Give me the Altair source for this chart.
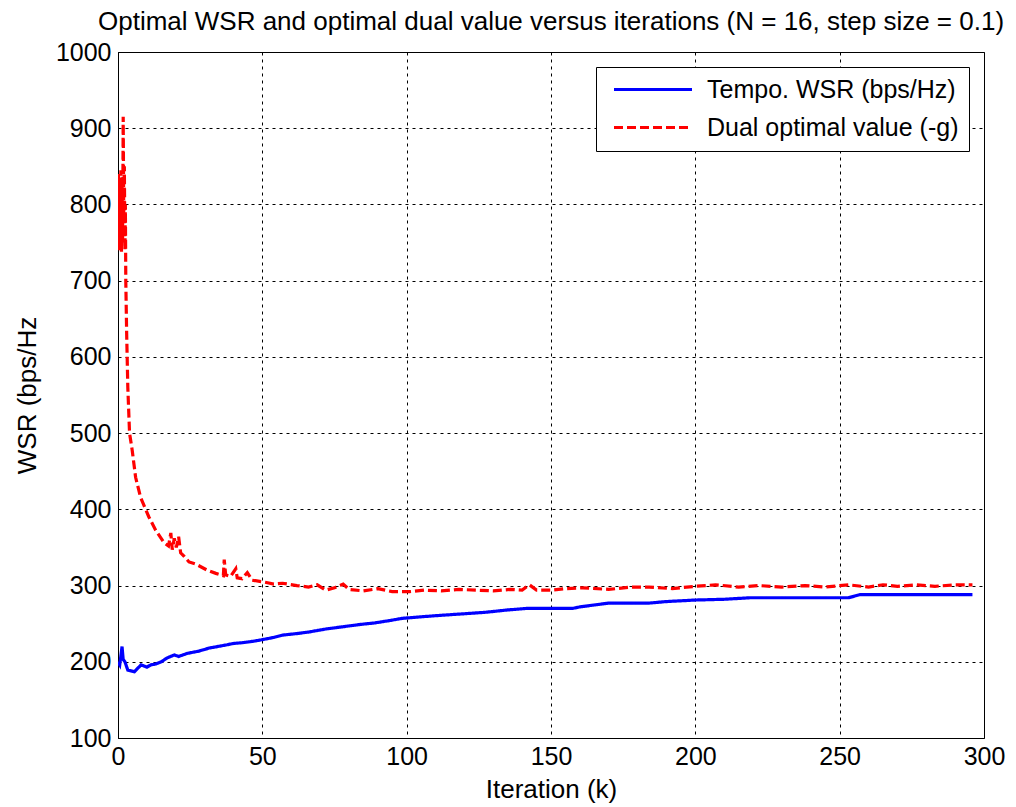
import altair as alt
import pandas as pd

# Dual optimal value (-g), red dashed
dual_iter = [0, 0.2, 0.4, 0.6, 0.8, 1.0, 1.2, 1.4, 1.6, 1.8, 2.0, 2.2, 2.4, 2.55,
             2.7, 3.0, 3.4, 4.0, 4.9, 6.1, 7.8, 10.7, 13, 16, 17.5, 18.3, 18.8, 19.5, 20.2,
             21, 21.7, 23, 24.6, 27, 29, 31, 33.9, 36.5, 36.8, 37.3, 39, 40.8, 41.3, 43,
             44.8, 46.5, 50, 54, 57, 62, 66, 69, 72, 75, 78, 80, 85, 90, 95, 101, 106, 112,
             118, 124, 130, 136, 140, 142.5, 145, 150, 155, 161, 170, 178, 184, 192, 200,
             207, 215, 222, 230, 238, 245, 253, 260, 265, 270, 276.7, 283, 290, 296]
dual_val = [760, 840, 740, 835, 745, 845, 738, 830, 750, 915, 780, 850, 740, 800,
            700, 631, 560, 500, 478, 442, 416, 390, 373, 356, 352, 369, 347, 362, 350,
            364, 343, 338, 331, 328, 324, 320, 316, 313, 334, 314, 312, 322, 310, 309,
            317, 307, 305, 302, 303, 300, 298, 301, 294, 297, 302, 295, 293, 296, 292, 292, 294, 293,
            295, 294, 293, 295, 294, 301, 294, 294, 296, 297, 295, 298, 298, 296, 299,
            301, 298, 300, 298, 300, 298, 301, 298, 301, 299, 301, 299, 301, 301]

# Tempo. WSR (bps/Hz), blue solid
wsr_iter = [0, 0.6, 1.0, 1.4, 1.8, 2.4, 3.4, 5.7, 8, 10, 11.4, 13, 15, 17, 19.5, 21, 24, 28,
            31.6, 36, 40, 43, 47, 50, 54, 57, 62, 66, 72, 78, 84, 89, 94, 98.5, 105, 112,
            120, 127.5, 135, 141.5, 149.5, 157.5, 160, 170, 184, 190, 200, 210, 219, 230,
            253, 257, 275, 296]
wsr_val = [200, 196, 208, 220, 203, 200, 189, 187, 196, 193, 196, 197, 200, 205, 209, 207, 211, 214,
           218, 221, 224, 225, 227, 229, 232, 235, 237, 239, 243, 246, 249, 251, 254, 257, 259, 261,
           263, 265, 268, 270, 270, 270, 272, 277, 277, 279, 281, 282, 284, 284,
           284, 288, 288, 288]

series_names = ["Tempo. WSR (bps/Hz)", "Dual optimal value (-g)"]
series_colors = ["#0000ff", "#ff0000"]

x_ticks = [0, 50, 100, 150, 200, 250, 300]
y_ticks = [100, 200, 300, 400, 500, 600, 700, 800, 900, 1000]

df = pd.concat([
    pd.DataFrame({"iter": wsr_iter, "val": wsr_val, "series": series_names[0]}),
    pd.DataFrame({"iter": dual_iter, "val": dual_val, "series": series_names[1]}),
], ignore_index=True)

FONT = "Liberation Sans"

legend_opts = dict(title=None, orient="none", legendX=478, legendY=15)

chart = alt.Chart(df).mark_line(strokeWidth=3.2, clip=True).encode(
    x=alt.X("iter:Q", scale=alt.Scale(domain=[0, 300], nice=False, zero=False),
            axis=alt.Axis(values=x_ticks, title="Iteration (k)", format="d",
                          labelPadding=6, titlePadding=7, labelFlush=False)),
    y=alt.Y("val:Q", scale=alt.Scale(domain=[100, 1000], nice=False, zero=False),
            axis=alt.Axis(values=y_ticks, title="WSR (bps/Hz", format="d",
                          labelPadding=7, titlePadding=15, labelFlush=False)),
    color=alt.Color("series:N", scale=alt.Scale(domain=series_names, range=series_colors),
                    legend=alt.Legend(**legend_opts)),
    strokeDash=alt.StrokeDash("series:N", scale=alt.Scale(domain=series_names, range=[[1, 0], [9, 4]]),
                              legend=alt.Legend(**legend_opts)),
    detail="series:N",
).properties(
    width=866,
    height=686,
    title=alt.TitleParams(
        "Optimal WSR and optimal dual value versus iterations (N = 16, step size = 0.1)",
        font=FONT, fontSize=26, fontWeight="normal", color="black",
        anchor="middle", frame="group", offset=5),
    autosize=alt.AutoSizeParams(type="none"),
    padding={"left": 118, "top": 52, "right": 32, "bottom": 69},
).configure_view(
    stroke="black", strokeWidth=1
).configure_axis(
    labelFont=FONT, labelFontSize=25, labelColor="black",
    titleFont=FONT, titleFontSize=26, titleColor="black", titleFontWeight="normal",
    grid=True, gridColor="black", gridDash=[3, 4], gridOpacity=1, gridWidth=1,
    domainColor="black", domainWidth=1, ticks=False,
).configure_legend(
    labelFont=FONT, labelFontSize=25, labelColor="black",
    symbolType="stroke", symbolSize=6084, symbolStrokeWidth=3.2, symbolOffset=6,
    strokeColor="black", fillColor="white", padding=10, rowPadding=12,
    clipHeight=25, labelOffset=13, labelLimit=400,
)

chart.save("out.html", embed_options={"renderer": "svg", "actions": False})
